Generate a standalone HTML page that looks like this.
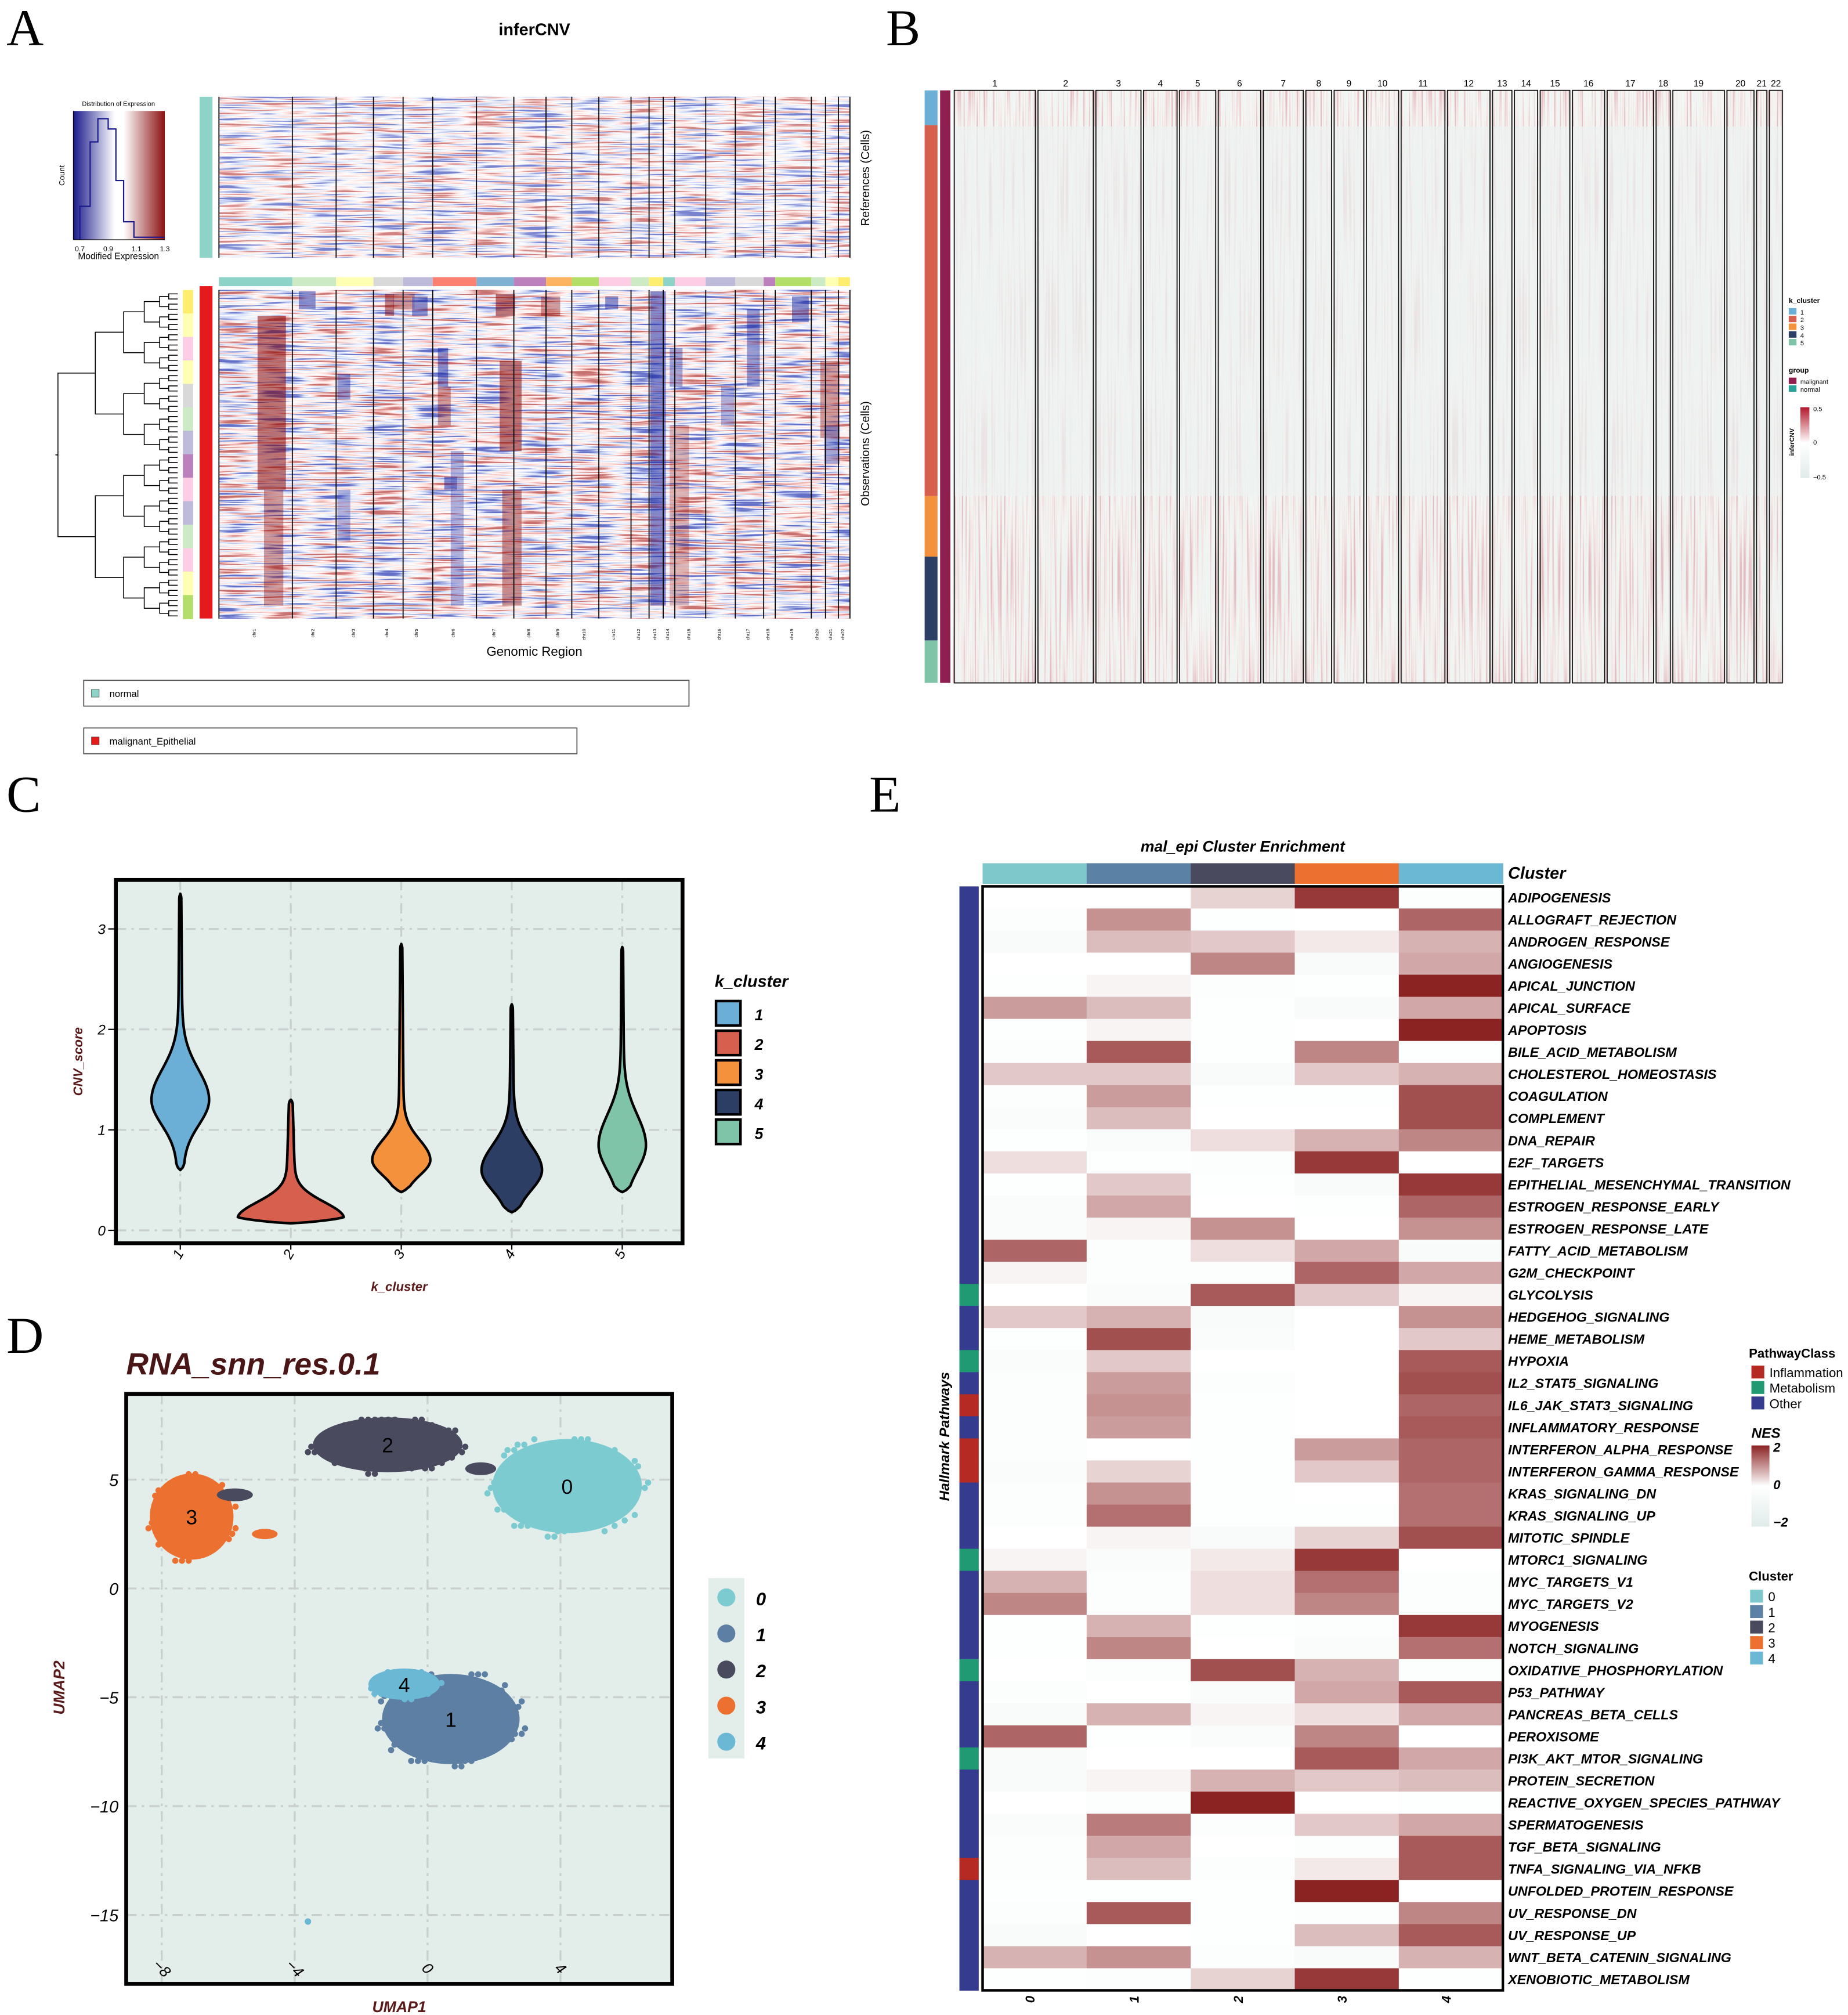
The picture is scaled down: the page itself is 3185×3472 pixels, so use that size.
<!DOCTYPE html>
<html><head><meta charset="utf-8">
<style>
html,body{margin:0;padding:0;background:#fff;}
svg{display:block;font-family:"Liberation Sans",sans-serif;}
</style></head>
<body>
<svg id="fig" width="3185" height="3472" viewBox="0 0 1435 1564" xmlns="http://www.w3.org/2000/svg">
<defs>
<filter id="cnvNoise" x="0" y="0" width="1" height="1" color-interpolation-filters="sRGB">
 <feTurbulence type="fractalNoise" baseFrequency="0.025 0.6" numOctaves="2" seed="3"/>
 <feColorMatrix type="matrix" values="2.4 0 0 0 -0.7  2.4 0 0 0 -0.7  2.4 0 0 0 -0.7  0 0 0 0 1"/>
 <feComponentTransfer>
  <feFuncR type="table" tableValues="0.3 0.8 1 1 0.75"/>
  <feFuncG type="table" tableValues="0.35 0.85 1 0.82 0.35"/>
  <feFuncB type="table" tableValues="0.75 0.97 1 0.8 0.35"/>
 </feComponentTransfer>
</filter>
<filter id="bNoise" x="0" y="0" width="1" height="1" color-interpolation-filters="sRGB">
 <feTurbulence type="fractalNoise" baseFrequency="0.7 0.01" numOctaves="1" seed="5"/>
 <feColorMatrix type="matrix" values="2.5 0 0 0 -0.8  2.5 0 0 0 -0.8  2.5 0 0 0 -0.8  0 0 0 0 1"/>
 <feComponentTransfer>
  <feFuncR type="table" tableValues="0.93 0.96 0.95 0.88"/>
  <feFuncG type="table" tableValues="0.96 0.97 0.88 0.72"/>
  <feFuncB type="table" tableValues="0.95 0.96 0.88 0.74"/>
 </feComponentTransfer>
</filter>
<linearGradient id="keyGrad" x1="0" x2="1" y1="0" y2="0">
 <stop offset="0" stop-color="#1a1a8c"/><stop offset="0.45" stop-color="#ffffff"/><stop offset="0.55" stop-color="#ffffff"/><stop offset="1" stop-color="#8b1010"/>
</linearGradient>
<linearGradient id="nesGrad" x1="0" x2="0" y1="0" y2="1">
 <stop offset="0" stop-color="#8b2323"/><stop offset="0.5" stop-color="#ffffff"/><stop offset="1" stop-color="#e0ecea"/>
</linearGradient>
<linearGradient id="bGrad" x1="0" x2="0" y1="0" y2="1">
 <stop offset="0" stop-color="#b2182b"/><stop offset="0.5" stop-color="#ffffff"/><stop offset="1" stop-color="#e0ecea"/>
</linearGradient>
</defs>
<g id="root"></g>
</svg>
<script>
const NS='http://www.w3.org/2000/svg';
const root=document.getElementById('root');
function mk(tag,attrs,parent,text){const e=document.createElementNS(NS,tag);for(const k in attrs)e.setAttribute(k,attrs[k]);if(text!==undefined)e.textContent=text;(parent||root).appendChild(e);return e;}

/* ================= DATA ================= */
const violinClusters=['1','2','3','4','5'];
const violinMin=[0.6,0.07,0.38,0.18,0.38];
const violinMax=[3.35,1.3,2.85,2.25,2.82];
const violinMode=[1.3,0.12,0.7,0.6,0.85];
const violinSdLow=[0.25,0.05,0.15,0.2,0.25];
const violinSdHigh=[0.3,0.16,0.2,0.25,0.3];
const violinDensity=[22,40,22,23,18];
const cTicks=[0,1,2,3];
const umapClusters=['0','1','2','3','4'];
const umapCx=[4.2,0.7,-1.2,-7.1,-0.7];
const umapCy=[4.7,-6.0,6.6,3.3,-4.4];
const umapRx=[2.5,2.3,2.5,1.4,1.2];
const umapRy=[2.4,2.3,1.4,2.2,0.8];
const umapXTicks=[-8,-4,0,4];
const umapYTicks=[5,0,-5,-10,-15];
const pathways=['ADIPOGENESIS','ALLOGRAFT_REJECTION','ANDROGEN_RESPONSE','ANGIOGENESIS','APICAL_JUNCTION','APICAL_SURFACE','APOPTOSIS','BILE_ACID_METABOLISM','CHOLESTEROL_HOMEOSTASIS','COAGULATION','COMPLEMENT','DNA_REPAIR','E2F_TARGETS','EPITHELIAL_MESENCHYMAL_TRANSITION','ESTROGEN_RESPONSE_EARLY','ESTROGEN_RESPONSE_LATE','FATTY_ACID_METABOLISM','G2M_CHECKPOINT','GLYCOLYSIS','HEDGEHOG_SIGNALING','HEME_METABOLISM','HYPOXIA','IL2_STAT5_SIGNALING','IL6_JAK_STAT3_SIGNALING','INFLAMMATORY_RESPONSE','INTERFERON_ALPHA_RESPONSE','INTERFERON_GAMMA_RESPONSE','KRAS_SIGNALING_DN','KRAS_SIGNALING_UP','MITOTIC_SPINDLE','MTORC1_SIGNALING','MYC_TARGETS_V1','MYC_TARGETS_V2','MYOGENESIS','NOTCH_SIGNALING','OXIDATIVE_PHOSPHORYLATION','P53_PATHWAY','PANCREAS_BETA_CELLS','PEROXISOME','PI3K_AKT_MTOR_SIGNALING','PROTEIN_SECRETION','REACTIVE_OXYGEN_SPECIES_PATHWAY','SPERMATOGENESIS','TGF_BETA_SIGNALING','TNFA_SIGNALING_VIA_NFKB','UNFOLDED_PROTEIN_RESPONSE','UV_RESPONSE_DN','UV_RESPONSE_UP','WNT_BETA_CATENIN_SIGNALING','XENOBIOTIC_METABOLISM'];
const pathwayClass=['O','O','O','O','O','O','O','O','O','O','O','O','O','O','O','O','O','O','M','O','O','M','O','I','O','I','I','O','O','O','M','O','O','O','O','M','O','O','O','M','O','O','O','O','I','O','O','O','O','O'];
const nesC0=[0,-0.2,-0.4,0,-0.1,0.9,-0.1,-0.2,0.5,-0.2,-0.3,-0.1,0.3,-0.1,-0.3,-0.3,1.4,0.1,0,0.5,-0.1,-0.3,-0.2,-0.2,-0.2,-0.2,-0.3,-0.2,-0.2,0,0.1,0.7,1.1,-0.1,-0.1,0,-0.2,-0.4,1.4,-0.4,-0.4,0,-0.3,-0.2,-0.2,-0.1,-0.2,-0.4,0.7,-0.1];
const nesC1=[0,1.0,0.6,0,0.1,0.6,0.1,1.5,0.5,0.9,0.6,-0.3,-0.1,0.5,0.8,0.1,-0.2,-0.2,-0.3,0.7,1.6,0.5,0.9,1.0,0.9,0,0.4,1.0,1.3,0.1,-0.3,-0.2,-0.2,0.7,1.1,-0.2,0,0.7,-0.1,0,0.1,-0.2,1.2,0.8,0.6,-0.1,1.5,0,1.0,-0.2];
const nesC2=[0.4,-0.1,0.5,1.1,-0.2,-0.1,-0.1,-0.1,-0.4,-0.1,0,0.3,-0.2,-0.1,0,1.0,0.3,-0.2,1.5,-0.4,-0.3,0,-0.2,-0.1,-0.1,-0.1,-0.1,-0.1,-0.1,-0.4,0.2,0.3,0.3,-0.1,0,1.6,-0.3,0.1,-0.3,0,0.7,2.0,-0.2,0,-0.2,-0.1,-0.1,-0.1,-0.2,0.4];
const nesC3=[1.8,0,0.2,-0.4,-0.1,-0.4,0,1.1,0.5,-0.1,0,0.7,1.8,-0.4,-0.1,0,0.8,1.4,0.5,0,0,0,0,0,0,0.9,0.5,0,-0.1,0.4,1.8,1.3,1.1,-0.2,-0.3,0.7,0.8,0.3,1.1,1.5,0.5,0,0.5,-0.2,0.2,2.0,-0.2,0.6,-0.4,1.8];
const nesC4=[-0.2,1.4,0.7,0.8,2.0,0.8,2.0,-0.1,0.7,1.6,1.6,1.1,0,1.8,1.4,1.0,-0.4,0.8,0.1,1.0,0.5,1.5,1.6,1.4,1.5,1.4,1.4,1.3,1.3,1.6,0,-0.2,-0.2,1.8,1.3,-0.2,1.5,0.8,0,0.8,0.6,-0.1,0.8,1.5,1.5,0,1.1,1.5,0.7,-0.1];
const nesTicks=[2,0,-2];
const chromNames=['1','2','3','4','5','6','7','8','9','10','11','12','13','14','15','16','17','18','19','20','21','22'];
// relative gene counts per chromosome as displayed (A: inferCNV, B: cluster heatmap)
const chromWeightA=[57,34,29,23,23,34,29,25,20,21,25,14,11,9,24,23,22,9,28,11,10,9];
const chromWeightB=[65,45,37,28,30,35,33,22,25,27,36,35,17,20,25,27,38,13,42,23,10,12];

function txt(x,y,s,opts,name){const t=mk('text',Object.assign({x:x,y:y},opts||{}),root,s);return t;}
function bounds(x0,x1,w){const tot=w.reduce((a,b)=>a+b,0);const r=[x0];let c=0;w.forEach(l=>{c+=l;r.push(x0+(x1-x0)*c/tot);});return r;}

[['A',5,35],['B',688,35],['C',5,630],['E',675,630],['D',5,1050]].forEach(p=>{
 txt(p[1],p[2],p[0],{'font-family':'Liberation Serif, serif','font-size':40},'panel-letter-'+p[0].toLowerCase());
});

/* ================= PANEL A ================= */
txt(415,27,'inferCNV',{'font-size':13,'font-weight':'bold','text-anchor':'middle'},'infercnv-title');
const aX0=170,aX1=660;
const aBounds=bounds(aX0,aX1,chromWeightA);
const key=mk('g',{});
mk('rect',{x:57,y:86,width:71,height:100,fill:'url(#keyGrad)'},key);
mk('path',{d:'M62,186 L62,160 L70,160 L70,110 L76,110 L76,92 L84,92 L84,100 L90,100 L90,140 L96,140 L96,172 L104,172 L104,184 L128,184',fill:'none',stroke:'#1a1a8c','stroke-width':1},key);
mk('line',{x1:57,y1:186,x2:128,y2:186,stroke:'#000','stroke-width':0.6},key);
mk('line',{x1:57,y1:86,x2:57,y2:186,stroke:'#000','stroke-width':0.6},key);
txt(92,82,'Distribution of Expression',{'font-size':5,'text-anchor':'middle'},'key-title');
txt(92,201,'Modified Expression',{'font-size':7,'text-anchor':'middle'},'key-x-title');
['0.7','0.9','1.1','1.3'].forEach((s,i)=>txt(62+i*22,195,s,{'font-size':5.5,'text-anchor':'middle'},'key-tick'));
txt(50,136,'Count',{'font-size':6,'text-anchor':'middle',transform:'rotate(-90 50 136)'},'key-y-title');
let g=mk('g',{});
mk('rect',{x:155,y:75,width:10,height:125,fill:'#8dd3c7'},g);
mk('rect',{x:170,y:75,width:490,height:125,fill:'#fff',filter:'url(#cnvNoise)',opacity:0.75},g);
const bandCols=['#8dd3c7','#ccebc5','#ffffb3','#d9d9d9','#bebada','#fb8072','#80b1d3','#bc80bd','#fdb462','#b3de69','#fccde5','#ccebc5','#ffed6f','#8dd3c7','#fccde5','#bebada','#d9d9d9','#bc80bd','#b3de69','#ccebc5','#ffffb3','#ffed6f'];
chromNames.forEach((c,i)=>{const r=mk('rect',{x:aBounds[i],y:215,width:aBounds[i+1]-aBounds[i],height:7,fill:bandCols[i]});});
g=mk('g',{});
mk('rect',{x:155,y:222,width:10,height:258,fill:'#e41a1c'},g);
const sideCols=['#ffed6f','#ffffb3','#fccde5','#ffffb3','#d9d9d9','#ccebc5','#bebada','#bc80bd','#fccde5','#bebada','#ccebc5','#fccde5','#ffffb3','#b3de69'];
sideCols.forEach((c,i)=>mk('rect',{x:142,y:225+i*255/sideCols.length,width:8,height:255/sideCols.length+0.5,fill:c},g));
mk('rect',{x:170,y:225,width:490,height:255,fill:'#fff',filter:'url(#cnvNoise)',opacity:0.8},g);
const cnvBlocks=[[200,222,245,380,'r',1],[205,220,380,470,'r',0.7],[232,245,226,240,'b',0.9],[262,272,290,310,'b',0.8],[299,306,228,245,'r',0.9],[305,322,228,240,'r',0.7],[320,332,230,245,'b',0.9],[340,348,270,300,'b',0.9],[340,350,300,330,'r',0.7],[345,355,370,380,'b',0.9],[385,400,228,245,'r',1],[388,405,280,350,'r',1],[390,405,380,470,'r',0.8],[350,360,350,470,'b',0.6],[505,517,226,470,'b',0.95],[520,530,270,300,'b',0.7],[520,535,330,470,'r',0.5],[580,590,240,300,'b',0.8],[615,628,230,250,'b',0.9],[637,652,280,340,'r',0.7],[640,652,330,360,'b',0.7],[470,480,230,240,'b',0.9],[420,435,230,245,'r',0.7],[262,272,380,420,'b',0.6],[560,570,300,330,'b',0.6]];
cnvBlocks.forEach(b=>{mk('rect',{x:b[0],y:b[2],width:b[1]-b[0],height:b[3]-b[2],fill:b[4]==='r'?'#8b0f0f':'#1f2aa0',opacity:b[5]*0.8},g);});
mk('rect',{x:170,y:225,width:490,height:255,fill:'#fff',filter:'url(#cnvNoise)',opacity:0.3},g);
aBounds.forEach((x,i)=>{mk('line',{x1:x,y1:75,x2:x,y2:200,stroke:'#000','stroke-width':0.8});mk('line',{x1:x,y1:225,x2:x,y2:480,stroke:'#000','stroke-width':0.8});
 if(i<22){txt((x+aBounds[i+1])/2,488,'chr'+chromNames[i],{'font-size':3.5,'text-anchor':'end',transform:`rotate(-90 ${(x+aBounds[i+1])/2} 488)`},'chrom-tick');}});
txt(675,138,'References (Cells)',{'font-size':9,'text-anchor':'middle',transform:'rotate(-90 675 138)'},'references-label');
txt(675,352,'Observations (Cells)',{'font-size':9,'text-anchor':'middle',transform:'rotate(-90 675 352)'},'observations-label');
txt(415,509,'Genomic Region',{'font-size':10,'text-anchor':'middle'},'genomic-region-label');
const dend=mk('g',{stroke:'#000','stroke-width':0.7,fill:'none'});
(function(){let nodes=[];const n=64;for(let i=0;i<n;i++)nodes.push({y:228+i*(250/(n-1)),x:138});
 const xs=[131,124,112,96,74,45];let lvl=0;
 while(nodes.length>1){const nx=xs[Math.min(lvl,xs.length-1)];const nn=[];
  for(let i=0;i<nodes.length;i+=2){const a=nodes[i],b=nodes[i+1];if(!b){nn.push(a);continue;}
   mk('path',{d:`M${a.x},${a.y} H${nx} V${b.y} H${b.x}`},dend);nn.push({x:nx,y:(a.y+b.y)/2});}
  nodes=nn;lvl++;}
 mk('line',{x1:nodes[0].x,y1:nodes[0].y,x2:43,y2:nodes[0].y},dend);})();
[['normal',65,528,470,'#8dd3c7'],['malignant_Epithelial',65,565,383,'#e41a1c']].forEach(l=>{
 const lg=mk('g',{});
 mk('rect',{x:l[1],y:l[2],width:l[3],height:20,fill:'#fff',stroke:'#555','stroke-width':0.8},lg);
 mk('rect',{x:l[1]+6,y:l[2]+7,width:6,height:6,fill:l[4],stroke:'#333','stroke-width':0.3},lg);
 mk('text',{x:l[1]+20,y:l[2]+13,'font-size':7.5},lg,l[0]);});

/* ================= PANEL B ================= */
const bX0=740,bX1=1385,bY0=70,bY1=530;
const bBounds=bounds(bX0,bX1,chromWeightB);
g=mk('g',{});
mk('rect',{x:bX0,y:bY0,width:bX1-bX0,height:bY1-bY0,fill:'#eef3f2'},g);
mk('rect',{x:bX0,y:bY0,width:bX1-bX0,height:28,fill:'#fff',filter:'url(#bNoise)'},g);
mk('rect',{x:bX0,y:385,width:bX1-bX0,height:145,fill:'#fff',filter:'url(#bNoise)',opacity:0.9},g);
mk('rect',{x:bX0,y:98,width:bX1-bX0,height:287,fill:'#fff',filter:'url(#bNoise)',opacity:0.25},g);
const bClusterCols=['#6baed6','#d6604d','#f4913c','#2c3e63','#7fc4a8'];
const bClusterSpans=[[70,97],[97,385],[385,432],[432,497],[497,530]];
bClusterSpans.forEach((s,i)=>{const r=mk('rect',{x:718,y:s[0],width:10,height:s[1]-s[0],fill:bClusterCols[i]});});
mk('rect',{x:730,y:70,width:8,height:460,fill:'#8e1f4f'});
chromNames.forEach((c,i)=>{mk('rect',{x:bBounds[i]+1,y:bY0,width:bBounds[i+1]-bBounds[i]-2,height:bY1-bY0,fill:'none',stroke:'#111','stroke-width':0.8});
 txt((bBounds[i]+bBounds[i+1])/2,67,c,{'font-size':7,'text-anchor':'middle'},'chrom-label-'+c);});
txt(1389,235,'k_cluster',{'font-size':5.5,'font-weight':'bold'},'b-legend-title');
bClusterCols.forEach((c,i)=>{mk('rect',{x:1389,y:239+i*6,width:6,height:5,fill:c});txt(1398,244+i*6,String(i+1),{'font-size':5},'b-legend-entry');});
txt(1389,289,'group',{'font-size':5.5,'font-weight':'bold'},'b-group-title');
mk('rect',{x:1389,y:293,width:6,height:5,fill:'#8e1f4f'});txt(1398,298,'malignant',{'font-size':5},'b-group-malignant');
mk('rect',{x:1389,y:299,width:6,height:5,fill:'#2aa198'});txt(1398,304,'normal',{'font-size':5},'b-group-normal');
mk('rect',{x:1398,y:316,width:7,height:55,fill:'url(#bGrad)'});
txt(1408,319,'0.5',{'font-size':5},'b-scale-tick');txt(1408,345,'0',{'font-size':5},'b-scale-tick');txt(1408,372,'−0.5',{'font-size':5},'b-scale-tick');
txt(1393,343,'inferCNV',{'font-size':5,'font-weight':'bold','text-anchor':'middle',transform:'rotate(-90 1393 343)'},'b-scale-title');

/* ================= PANEL C ================= */
const cBox={x:90,y:683,w:440,h:282};
const cY=v=>955-78*v;
const cX=i=>140+i*85.8;
g=mk('g',{});
mk('rect',{x:cBox.x,y:cBox.y,width:cBox.w,height:cBox.h,fill:'#e3eeea'},g);
cTicks.forEach(v=>{mk('line',{x1:cBox.x,x2:cBox.x+cBox.w,y1:cY(v),y2:cY(v),stroke:'#c9cfcf','stroke-width':1.5,'stroke-dasharray':'8 4 2 4'},g);
 txt(82,cY(v)+4,String(v),{'font-size':11,'font-style':'italic','text-anchor':'end'},'c-y-tick');
 mk('line',{x1:84,x2:cBox.x,y1:cY(v),y2:cY(v),stroke:'#000','stroke-width':1},g);});
violinClusters.forEach((c,i)=>{mk('line',{x1:cX(i),x2:cX(i),y1:cBox.y,y2:cBox.y+cBox.h,stroke:'#c9cfcf','stroke-width':1.5,'stroke-dasharray':'8 4 2 4'},g);});
violinClusters.forEach((c,i)=>{
 const pts=[],N=120;const lo=violinMin[i],hi=violinMax[i];
 for(let k=0;k<=N;k++){const v=lo+(hi-lo)*k/N;const s=v<violinMode[i]?violinSdLow[i]:violinSdHigh[i];
  const gg=Math.exp(-0.5*Math.pow((v-violinMode[i])/s,2));
  const taper=Math.sqrt(Math.min(1,(v-lo)/0.06,(hi-v)/0.04));
  const w=violinDensity[i]*(0.93*gg+0.07*(1-(v-lo)/(hi-lo))+0.035)*taper;pts.push([v,w]);}
 let d='M'+cX(i)+','+cY(lo);pts.forEach(p=>d+=' L'+(cX(i)+p[1]).toFixed(2)+','+cY(p[0]).toFixed(2));
 for(let k=pts.length-1;k>=0;k--)d+=' L'+(cX(i)-pts[k][1]).toFixed(2)+','+cY(pts[k][0]).toFixed(2);d+='Z';
 const p=mk('path',{d:d,fill:bClusterCols[i],stroke:'#000','stroke-width':2,'stroke-linejoin':'round'},g);
 
 mk('line',{x1:cX(i),x2:cX(i),y1:cBox.y+cBox.h,y2:cBox.y+cBox.h+5,stroke:'#000'},g);
 txt(cX(i)+3,978,c,{'font-size':11,'font-style':'italic','text-anchor':'middle',transform:`rotate(-60 ${cX(i)} 978)`},'c-x-tick');
});
mk('rect',{x:cBox.x,y:cBox.y,width:cBox.w,height:cBox.h,fill:'none',stroke:'#000','stroke-width':3},g);
txt(64,824,'CNV_score',{'font-size':10,'font-weight':'bold','font-style':'italic',fill:'#5a1a1a','text-anchor':'middle',transform:'rotate(-90 64 824)'},'c-y-title');
txt(310,1002,'k_cluster',{'font-size':10,'font-weight':'bold','font-style':'italic',fill:'#5a1a1a','text-anchor':'middle'},'c-x-title');
txt(555,766,'k_cluster',{'font-size':13,'font-weight':'bold','font-style':'italic'},'c-legend-title');
violinClusters.forEach((c,i)=>{const r=mk('rect',{x:556,y:777+i*23,width:19,height:19,fill:bClusterCols[i],stroke:'#000','stroke-width':2});
 txt(586,792+i*23,c,{'font-size':12,'font-weight':'bold','font-style':'italic'},'c-legend-label');});

/* ================= PANEL D ================= */
const dX=v=>332+25.8*v, dY=v=>1233-16.9*v;
const umapCols=['#7ccbd1','#5d7fa3','#4a4a5e','#ec7130','#6ab8d4'];
txt(98,1067,'RNA_snn_res.0.1',{'font-size':24,'font-weight':'bold','font-style':'italic',fill:'#4a1515'},'umap-title');
g=mk('g',{});
mk('rect',{x:98,y:1082,width:424,height:458,fill:'#e3eeea'},g);
umapXTicks.forEach(v=>{mk('line',{x1:dX(v),x2:dX(v),y1:1082,y2:1540,stroke:'#c9cfcf','stroke-width':1.5,'stroke-dasharray':'8 4 2 4'},g);
 txt(dX(v),1532,v<0?'−'+(-v):String(v),{'font-size':12,'font-style':'italic','text-anchor':'middle',transform:`rotate(45 ${dX(v)} 1528)`},'d-x-tick');});
umapYTicks.forEach(v=>{mk('line',{x1:98,x2:522,y1:dY(v),y2:dY(v),stroke:'#c9cfcf','stroke-width':1.5,'stroke-dasharray':'8 4 2 4'},g);
 txt(92,dY(v)+5,v<0?'−'+(-v):String(v),{'font-size':13,'font-style':'italic','text-anchor':'end'},'d-y-tick');});
const order=[2,0,3,1,4];
order.forEach(i=>{const cg=mk('g',{},g);
 const cx=dX(umapCx[i]),cy=dY(umapCy[i]),rx=umapRx[i]*25.8,ry=umapRy[i]*16.9;
 mk('ellipse',{cx:cx,cy:cy,rx:rx*0.9,ry:ry*0.9,fill:umapCols[i]},cg);
 let row=0;for(let y=cy-ry;y<=cy+ry;y+=4.2){const off=(row%2)*2.6;row++;
  for(let x=cx-rx+off;x<=cx+rx;x+=5.2){const e=Math.pow((x-cx)/rx,2)+Math.pow((y-cy)/ry,2);
   if(e<=1&&(e<0.7||((Math.floor(x*7+y*3))%3===0)))mk('circle',{cx:x.toFixed(1),cy:y.toFixed(1),r:2.4,fill:umapCols[i]},cg);}}
 txt(cx,cy+6,umapClusters[i],{'font-size':16,'text-anchor':'middle'},'umap-cluster-label');
});
mk('ellipse',{cx:dX(-4.9),cy:dY(2.5),rx:10,ry:4,fill:umapCols[3]},g);
mk('ellipse',{cx:dX(-5.8),cy:dY(4.3),rx:14,ry:5,fill:umapCols[2]},g);
mk('ellipse',{cx:dX(1.6),cy:dY(5.5),rx:12,ry:5,fill:umapCols[2]},g);
mk('circle',{cx:dX(-3.6),cy:dY(-15.3),r:2.5,fill:umapCols[4]},g);
mk('rect',{x:98,y:1082,width:424,height:458,fill:'none',stroke:'#000','stroke-width':3},g);
txt(310,1562,'UMAP1',{'font-size':12,'font-weight':'bold','font-style':'italic',fill:'#5a1a1a','text-anchor':'middle'},'d-x-title');
txt(50,1310,'UMAP2',{'font-size':12,'font-weight':'bold','font-style':'italic',fill:'#5a1a1a','text-anchor':'middle',transform:'rotate(-90 50 1310)'},'d-y-title');
mk('rect',{x:550,y:1225,width:28,height:140,fill:'#e3eeea'});
umapClusters.forEach((c,i)=>{const cc=mk('circle',{cx:564,cy:1240+i*28,r:7,fill:umapCols[i]});
 txt(587,1246+i*28,c,{'font-size':14,'font-weight':'bold','font-style':'italic'},'d-legend-label');});

/* ================= PANEL E ================= */
const eX0=763,eX1=1167,eY0=688,eY1=1545;
const colW=(eX1-eX0)/5,rowH=(eY1-eY0)/pathways.length;
const eCols=['#7ec8cc','#5b82a5','#4a4a5e','#ec7130','#6ab8d4'];
const nesAll=[nesC0,nesC1,nesC2,nesC3,nesC4];
function nesColor(v){v=Math.max(-2,Math.min(2,v));let a,b,t;
 if(v>=0){a=[255,255,255];b=[139,35,35];t=v/2;}else{a=[255,255,255];b=[224,236,234];t=-v/2;}
 return `rgb(${Math.round(a[0]+(b[0]-a[0])*t)},${Math.round(a[1]+(b[1]-a[1])*t)},${Math.round(a[2]+(b[2]-a[2])*t)})`;}
txt(965,661,'mal_epi Cluster Enrichment',{'font-size':12,'font-weight':'bold','font-style':'italic','text-anchor':'middle'},'e-title');
g=mk('g',{});
eCols.forEach((c,j)=>{const r=mk('rect',{x:eX0+j*colW,y:670,width:colW+0.3,height:16,fill:c},g);
 txt(eX0+(j+0.5)*colW,1552,String(j),{'font-size':10,'font-weight':'bold','font-style':'italic','text-anchor':'middle',transform:`rotate(-90 ${eX0+(j+0.5)*colW} 1552)`},'e-x-tick');});
txt(1171,682,'Cluster',{'font-size':13,'font-weight':'bold','font-style':'italic'},'e-cluster-annotation-label');
const classCol={I:'#b52a23',M:'#1f9a72',O:'#353c8f'};
pathways.forEach((p,i)=>{
 const sb=mk('rect',{x:745,y:eY0+i*rowH,width:15,height:rowH+0.3,fill:classCol[pathwayClass[i]]},g);
 
 nesAll.forEach((arr,j)=>{const r=mk('rect',{x:eX0+j*colW,y:eY0+i*rowH,width:colW+0.3,height:rowH+0.3,fill:nesColor(arr[i])},g);
  });
 txt(1171,eY0+(i+0.5)*rowH+3.8,p,{'font-size':10.5,'font-weight':'bold','font-style':'italic'},'pathway-label');
});
mk('rect',{x:eX0,y:eY0,width:eX1-eX0,height:eY1-eY0,fill:'none',stroke:'#000','stroke-width':2},g);
txt(737,1115,'Hallmark Pathways',{'font-size':11,'font-weight':'bold','font-style':'italic','text-anchor':'middle',transform:'rotate(-90 737 1115)'},'e-y-title');
txt(1358,1054,'PathwayClass',{'font-size':10,'font-weight':'bold'},'e-class-legend-title');
[['Inflammation','I'],['Metabolism','M'],['Other','O']].forEach((l,i)=>{const r=mk('rect',{x:1360,y:1060+i*12,width:10,height:10,fill:classCol[l[1]]});
 txt(1374,1069+i*12,l[0],{'font-size':10},'class-legend-label');});
txt(1360,1116,'NES',{'font-size':11,'font-weight':'bold','font-style':'italic'},'nes-legend-title');
mk('rect',{x:1360,y:1122,width:14,height:63,fill:'url(#nesGrad)'});
nesTicks.forEach((v,i)=>txt(1377,1127+i*29,v<0?'−'+(-v):String(v),{'font-size':10,'font-weight':'bold','font-style':'italic'},'nes-tick'));
txt(1358,1227,'Cluster',{'font-size':10,'font-weight':'bold'},'e-cluster-legend-title');
eCols.forEach((c,i)=>{const r=mk('rect',{x:1359,y:1234+i*12,width:10,height:10,fill:c});
 txt(1373,1243+i*12,String(i),{'font-size':10},'e-cluster-legend-label');});
</script>
</body></html>
